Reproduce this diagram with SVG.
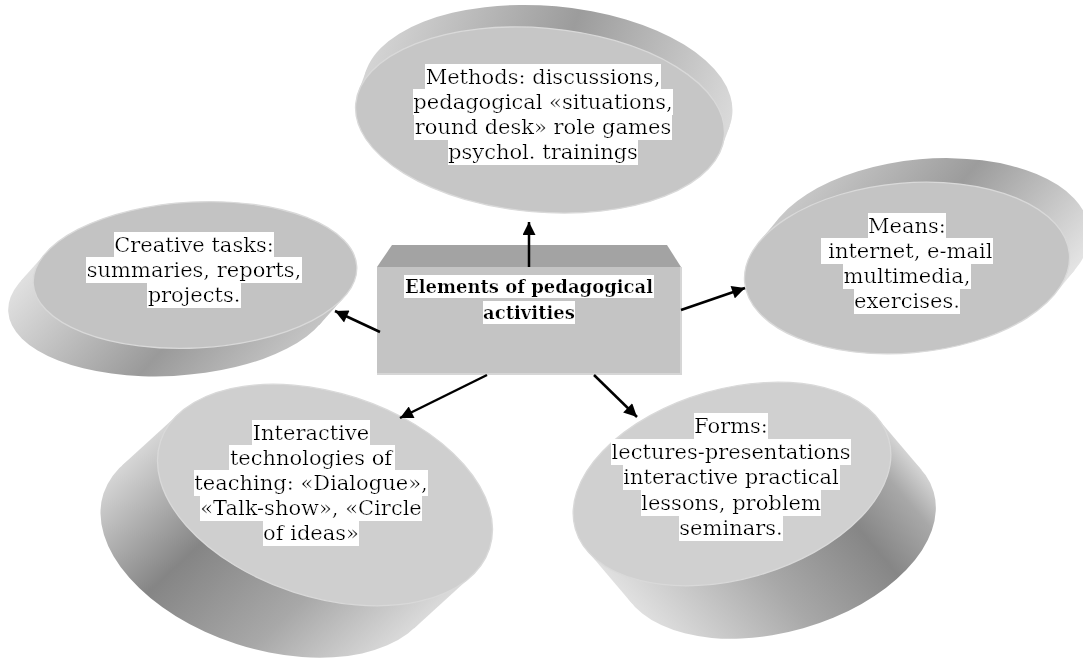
<svg xmlns="http://www.w3.org/2000/svg" width="1083" height="661" viewBox="0 0 1083 661">
<defs>
<style>
.t{font-family:"DejaVu Serif","Liberation Serif",serif;font-size:21px;fill:#000;text-anchor:middle;filter:url(#bg)}
.tb{font-family:"DejaVu Serif","Liberation Serif",serif;font-size:18px;font-weight:bold;fill:#000;text-anchor:middle;filter:url(#bg)}
.face{stroke:#d9d9d9;stroke-width:1.3}
.arr{stroke:#000;stroke-width:2.5;fill:none;marker-end:url(#ah)}
</style>
<filter id="bg" x="0" y="-0.02" width="1" height="1.04">
<feFlood flood-color="#ffffff" result="f"/>
<feComposite in="SourceGraphic" in2="f" operator="over"/>
</filter>
<marker id="ah" viewBox="0 0 10 10" refX="10" refY="5" markerWidth="15" markerHeight="13" markerUnits="userSpaceOnUse" orient="auto">
<path d="M0,0 L10,5 L0,10 z" fill="#000"/>
</marker>
<linearGradient id="g1" gradientUnits="userSpaceOnUse" x1="-183.4" y1="-12.1" x2="164.8" y2="81.1">
<stop offset="0" stop-color="#d4d4d4"/><stop offset="0.5" stop-color="#9c9c9c"/><stop offset="1" stop-color="#dadada"/>
</linearGradient>
<linearGradient id="g2" gradientUnits="userSpaceOnUse" x1="-147.9" y1="-29.8" x2="31" y2="147.6">
<stop offset="0" stop-color="#e0e0e0"/><stop offset="0.6" stop-color="#9a9a9a"/><stop offset="1" stop-color="#c4c4c4"/>
</linearGradient>
<linearGradient id="g3" gradientUnits="userSpaceOnUse" x1="-144.8" y1="-39" x2="40.2" y2="144.4">
<stop offset="0" stop-color="#c8c8c8"/><stop offset="0.45" stop-color="#9c9c9c"/><stop offset="1" stop-color="#e4e4e4"/>
</linearGradient>
<linearGradient id="g4" gradientUnits="userSpaceOnUse" x1="-164" y1="-32.4" x2="111.6" y2="124.3">
<stop offset="0" stop-color="#d6d6d6"/><stop offset="0.35" stop-color="#858585"/><stop offset="0.7" stop-color="#a8a8a8"/><stop offset="1" stop-color="#dadada"/>
</linearGradient>
<linearGradient id="g5" gradientUnits="userSpaceOnUse" x1="-157.6" y1="24.2" x2="122.2" y2="-102.3">
<stop offset="0" stop-color="#e0e0e0"/><stop offset="0.4" stop-color="#a8a8a8"/><stop offset="0.72" stop-color="#868686"/><stop offset="0.9" stop-color="#a8a8a8"/><stop offset="1" stop-color="#d4d4d4"/>
</linearGradient>
</defs>
<rect width="1083" height="661" fill="#fff"/>

<g id="methods">
<g transform="translate(540,120) rotate(5)">
<ellipse cx="6.05" cy="-22.6" rx="185" ry="92" fill="url(#g1)"/>
<polygon points="-183.4,-12.1 183.4,12.1 189.45,-10.5 -177.35,-34.7" fill="url(#g1)"/>
<ellipse class="face" cx="0" cy="0" rx="185" ry="92" fill="#c6c6c6"/>
</g>
<text class="t" x="543" y="84">Methods: discussions,</text>
<text class="t" x="543" y="109">pedagogical «situations,</text>
<text class="t" x="543" y="134">round desk» role games</text>
<text class="t" x="543" y="159">psychol. trainings</text>
</g>

<g id="creative">
<g transform="translate(195,275) rotate(-3)">
<ellipse cx="-26.43" cy="26.65" rx="162" ry="73" fill="url(#g2)"/>
<polygon points="147.9,29.8 121.47,56.45 -174.33,-3.15 -147.9,-29.8" fill="url(#g2)"/>
<ellipse class="face" cx="0" cy="0" rx="162" ry="73" fill="#c3c3c3"/>
</g>
<text class="t" x="194" y="252">Creative tasks:</text>
<text class="t" x="194" y="277">summaries, reports,</text>
<text class="t" x="194" y="302">projects.</text>
</g>

<g id="means">
<g transform="translate(907,268) rotate(-5)">
<ellipse cx="22" cy="-22.2" rx="163" ry="85" fill="url(#g3)"/>
<polygon points="-144.8,-39 -122.8,-61.2 166.8,16.8 144.8,39" fill="url(#g3)"/>
<ellipse class="face" cx="0" cy="0" rx="163" ry="85" fill="#c4c4c4"/>
</g>
<text class="t" x="907" y="233">Means:</text>
<text class="t" x="907" y="258">&#160;internet, e-mail</text>
<text class="t" x="907" y="283">multimedia,</text>
<text class="t" x="907" y="308">exercises.</text>
</g>

<g id="interactive">
<g transform="translate(325,495) rotate(18)">
<ellipse cx="-38.14" cy="67.07" rx="173" ry="102" fill="url(#g4)"/>
<polygon points="164,32.4 125.86,99.47 -202.14,34.67 -164,-32.4" fill="url(#g4)"/>
<ellipse class="face" cx="0" cy="0" rx="173" ry="102" fill="#cfcfcf"/>
</g>
<text class="t" x="311" y="440">Interactive</text>
<text class="t" x="311" y="465">technologies of</text>
<text class="t" x="311" y="490">teaching: «Dialogue»,</text>
<text class="t" x="311" y="515">«Talk-show», «Circle</text>
<text class="t" x="311" y="540">of ideas»</text>
</g>

<g id="forms">
<g transform="translate(732,484) rotate(-16)">
<ellipse cx="28.65" cy="63.35" rx="163" ry="95" fill="url(#g5)"/>
<polygon points="157.6,-24.2 186.25,39.15 -128.95,87.55 -157.6,24.2" fill="url(#g5)"/>
<ellipse class="face" cx="0" cy="0" rx="163" ry="95" fill="#d0d0d0"/>
</g>
<text class="t" x="731" y="433">Forms:</text>
<text class="t" x="731" y="459">lectures-presentations</text>
<text class="t" x="731" y="484">interactive practical</text>
<text class="t" x="731" y="510">lessons, problem</text>
<text class="t" x="731" y="535">seminars.</text>
</g>

<g id="center">
<polygon points="377,267 392,245 667,245 681,267" fill="#a3a3a3"/>
<rect x="377" y="267" width="304" height="108" fill="#c4c4c4"/>
<path d="M377,374 H681 V267" fill="none" stroke="#d6d6d6" stroke-width="2"/>
<text class="tb" x="529" y="293">Elements of pedagogical</text>
<text class="tb" x="529" y="319">activities</text>
</g>

<g id="connectors">
<line class="arr" x1="529" y1="267" x2="529" y2="222"/>
<line class="arr" x1="681" y1="310" x2="745" y2="288"/>
<line class="arr" x1="380" y1="332" x2="335" y2="311"/>
<line class="arr" x1="487" y1="375" x2="400" y2="418"/>
<line class="arr" x1="594" y1="375" x2="637" y2="417"/>
</g>
</svg>
